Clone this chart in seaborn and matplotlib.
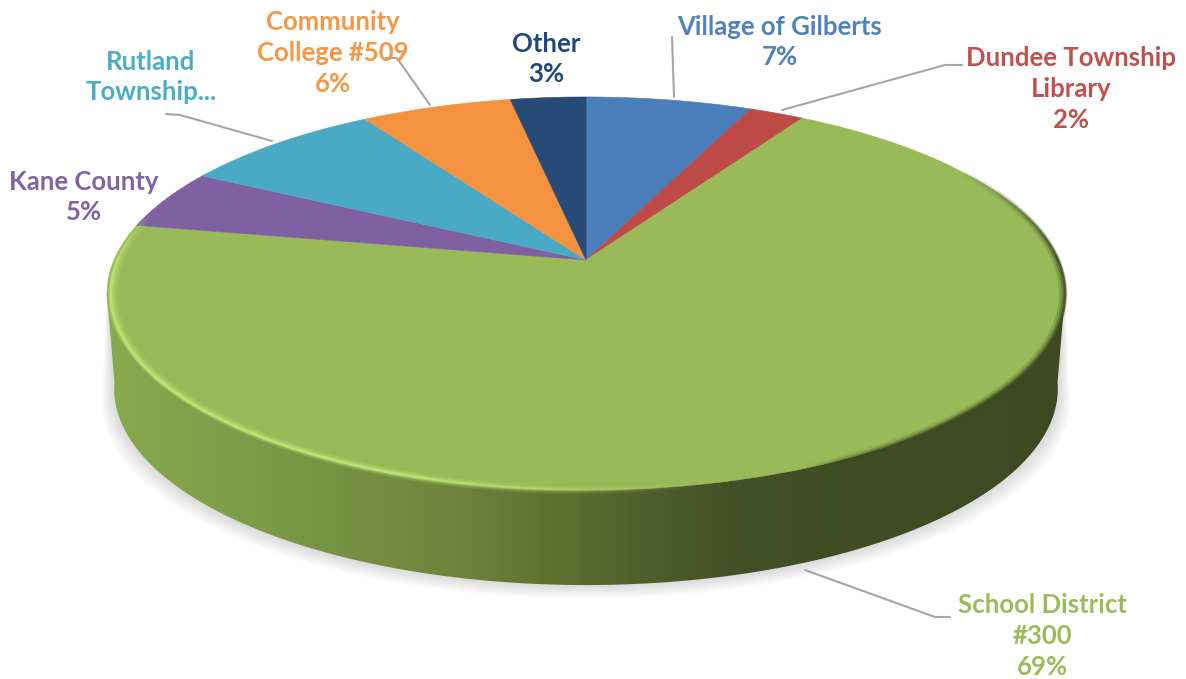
import matplotlib
matplotlib.use('Agg')
import matplotlib.pyplot as plt
from matplotlib.colors import LinearSegmentedColormap
from matplotlib.collections import LineCollection
from matplotlib.patches import Polygon
from matplotlib.path import Path
from matplotlib.transforms import Transform
import seaborn as sns
import numpy as np

# Data
names = ['Village of Gilberts', 'Dundee Township\nLibrary', 'School District\n#300',
         'Kane County', 'Rutland\nTownship...', 'Community\nCollege #509', 'Other']
values = [6.6, 2.2, 69.2, 4.9, 8.1, 6.0, 3.0]
show_pct = [True, True, True, True, False, True, True]

slice_colors = ['#4a7ebb', '#be4b48', '#9aba59', '#7f60a0', '#4aaac5', '#f59240', '#284a76']
text_colors = ['#4f81bd', '#c0504d', '#9bbb59', '#8064a2', '#4bacc6', '#f79646', '#1f497d']

# Label centres and leader lines in picture pixels
label_pos = [(780, 42), (1071, 89), (1042, 636), (84, 197), (151, 77), (333, 53), (546, 59)]
leaders = [[(672, 37), (674, 97)],
           [(962, 65), (945, 65), (782, 110)],
           [(950, 617), (935, 617), (805, 570)],
           [(166, 114), (180, 115), (272, 141)],
           [(386, 58), (397, 58), (430, 105)]]

CX, APEX_Y, A, C, R = 586, 260, -146.5, 0.1705, 472
DEPTH = 95


def project(pts, scale=1.0, drop=0):
    # perspective tilt of the flat unit pie onto the picture
    u, v = pts[:, 0], pts[:, 1]
    d = C * v + 1
    return np.column_stack([CX + scale * R * u / d, (A * v + APEX_Y) / d + drop])


class Tilt(Transform):
    input_dims = output_dims = 2
    is_affine = False

    def transform_non_affine(self, values):
        return project(np.asarray(values))

    def transform_path_non_affine(self, path):
        return Path(project(path.vertices), path.codes)


sns.set_theme(style='white')
plt.rcParams['font.family'] = ['Lato', 'DejaVu Sans']

fig = plt.figure(figsize=(11.86, 6.79), dpi=100)
ax = fig.add_axes([0, 0, 1, 1])

wedges, _ = ax.pie(values, colors=sns.color_palette(slice_colors), startangle=90,
                   counterclock=False, radius=1, normalize=True, wedgeprops={'linewidth': 0.4})
for w, col in zip(wedges, slice_colors):
    w.set_edgecolor(col)
    w.set_transform(Tilt() + ax.transData)
    w.set_zorder(5)

ax.set_aspect('auto')
ax.set_xlim(0, 1186)
ax.set_ylim(679, 0)
ax.axis('off')

theta = np.radians(np.linspace(188, 352, 200))
lower = np.column_stack([np.cos(theta), np.sin(theta)])
bottom = project(lower, scale=0.985, drop=DEPTH)
left_pt = project(np.array([[-np.sqrt(1 - C**2), -C]]))
right_pt = project(np.array([[np.sqrt(1 - C**2), -C]]))

# soft shadow under the disc
for i in range(1, 10):
    grown = bottom.copy()
    grown[:, 0] = CX + (grown[:, 0] - CX) * (1 + i * 0.003)
    grown[:, 1] += i * 1.5
    ax.add_patch(Polygon(np.vstack([left_pt, grown, right_pt]), color='#808080',
                         alpha=0.03, lw=0, zorder=1))

# side wall with a left to right shading
side_cmap = LinearSegmentedColormap.from_list('side', [
    (0.0, '#8aa94e'), (0.2, '#7a9644'), (0.36, '#6f843d'), (0.47, '#5d7032'),
    (0.56, '#505f2c'), (0.66, '#434f24'), (1.0, '#3e4922')])
side = ax.imshow(np.linspace(0, 1, 400)[None, :], cmap=side_cmap, aspect='auto',
                 extent=(105, 1070, 600, 280), zorder=2, vmin=0, vmax=1)
wall = Polygon(np.vstack([left_pt, bottom, right_pt]), transform=ax.transData,
               facecolor='none', edgecolor='none')
ax.add_patch(wall)
side.set_clip_path(wall)
ax.set_xlim(0, 1186)
ax.set_ylim(679, 0)

# bevel along the rim: light on the left and front, dark on the far right
deg = np.linspace(155, 390, 500)
theta = np.radians(deg)
rim = np.column_stack([np.cos(theta), np.sin(theta)])
for scale, lw, alpha in [(0.988, 6, 0.22), (0.99, 3.5, 0.4), (0.992, 1.8, 0.75)]:
    pts = project(rim, scale=scale)
    segs = np.stack([pts[:-1], pts[1:]], axis=1)
    mid = segs[:, :, 0].mean(axis=1)
    light = np.clip((700 - mid) / 300, 0, 1) * np.clip((deg[:-1] - 165) / 20, 0, 1)
    cols = np.zeros((len(mid), 4))
    cols[:, :3] = [0.76, 0.91, 0.47]
    cols[:, 3] = alpha * light
    ax.add_collection(LineCollection(segs, colors=cols, linewidths=lw, zorder=6,
                                     capstyle='butt'), autolim=False)

    pts = project(rim, scale=scale + 0.008)
    segs = np.stack([pts[:-1], pts[1:]], axis=1)
    mid = segs[:, :, 0].mean(axis=1)
    dark = np.clip((mid - 800) / 160, 0, 1) * np.clip((390 - deg[:-1]) / 30, 0, 1)
    cols = np.zeros((len(mid), 4))
    cols[:, :3] = [0.24, 0.29, 0.13]
    cols[:, 3] = alpha * dark
    ax.add_collection(LineCollection(segs, colors=cols, linewidths=lw, zorder=6,
                                     capstyle='butt'), autolim=False)

# leader lines
for line in leaders:
    xs, ys = zip(*line)
    ax.plot(xs, ys, color='#a6a6a6', lw=1.5, zorder=7)

# labels
for name, val, pct, (x, y), col in zip(names, values, show_pct, label_pos, text_colors):
    txt = f'{name}\n{val:.0f}%' if pct else name
    ax.text(x, y, txt, color=col, fontsize=18.5, fontweight='bold', ha='center',
            va='center', linespacing=1.33, zorder=8)

plt.savefig('out.png', dpi=100)
plt.close()
